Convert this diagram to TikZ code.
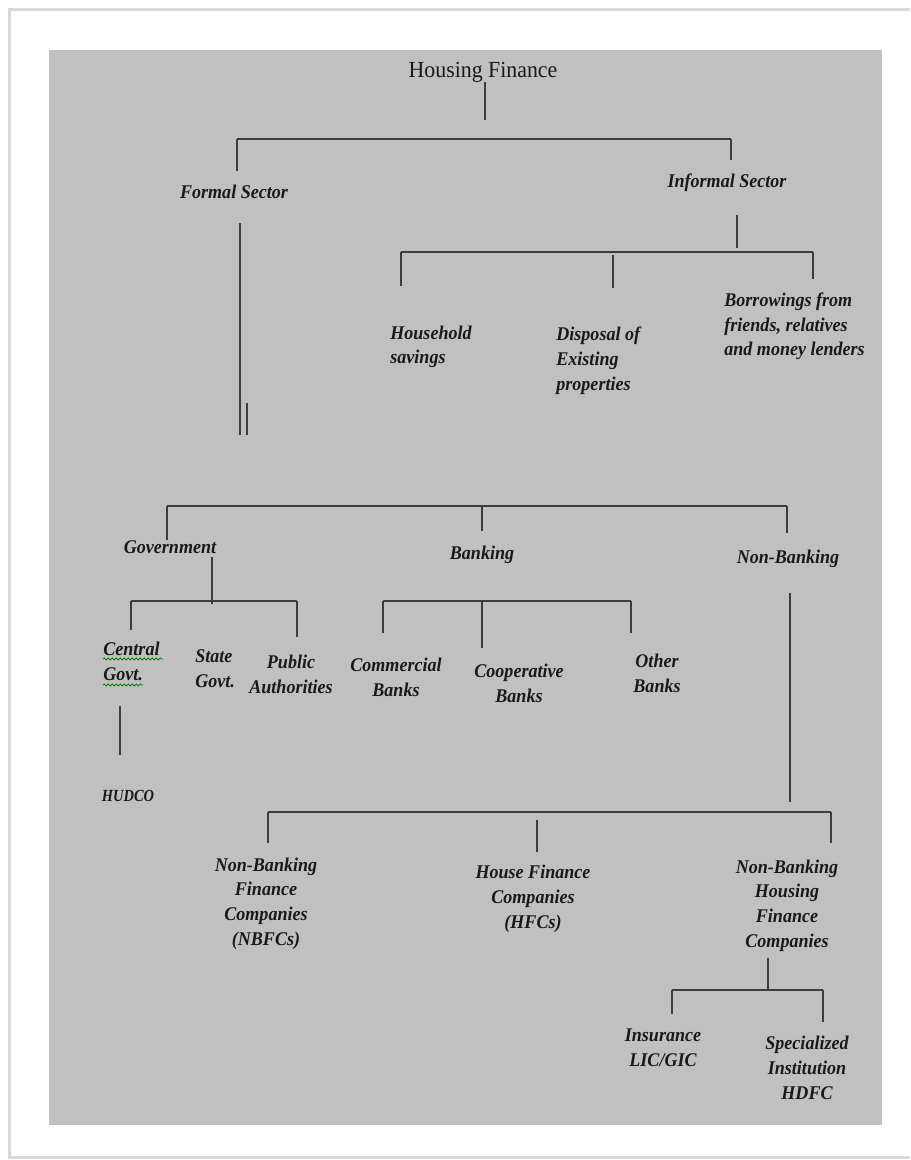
\documentclass[tikz,border=0pt]{standalone}
\usepackage{fontspec}
\setmainfont{Liberation Serif}
\newfontfamily\titlefont[FakeStretch=0.95]{Liberation Serif}
\newfontfamily\boxfont[FakeStretch=0.93]{Liberation Serif}
\newfontfamily\smallfont[FakeStretch=0.85]{Liberation Serif}
\usetikzlibrary{decorations.pathmorphing}
\definecolor{panelgrey}{RGB}{192,192,192}
\definecolor{linegrey}{RGB}{60,60,60}
\definecolor{inkgrey}{RGB}{25,25,25}
\tikzset{
    bar/.style={line width=0.8pt},
    spellmark/.style={draw=green!55!black, line width=0.4pt, decorate, decoration={snake, amplitude=0.5pt, segment length=2pt}}
}
\begin{document}
\begin{tikzpicture}[x=0.5pt,y=-0.5pt]
\useasboundingbox (0,0) rectangle (910,1160);
\fill[white] (0,0) rectangle (910,1160);
\draw[black!15, line width=1.5pt] (910,10) -- (9,10) -- (9,1157) -- (910,1157);
\fill[panelgrey] (49,50) rectangle (882,1125);
% labels sit on the baseline of their last line
\begin{scope}[every node/.style={inner sep=0pt, text=inkgrey, font=\boxfont\bfseries\itshape\fontsize{9.7}{12.3}\selectfont}]
    \node[anchor=base, font=\titlefont\fontsize{11.5}{14}\selectfont] (hf) at (483,78) {Housing Finance};
    \node[anchor=base] (fs) at (234,199) {Formal Sector};
    \node[anchor=base] (is) at (727,188) {Informal Sector};
    \node[anchor=base west, align=left] (hs) at (390,364) {Household\\savings};
    \node[anchor=base west, align=left] (dp) at (556,390) {Disposal of\\Existing\\properties};
    \node[anchor=base west, align=left] (bw) at (724,356) {Borrowings from\\friends, relatives\\and money lenders};
    \node[anchor=base] (gv) at (170,553) {Government};
    \node[anchor=base] (bk) at (482,559) {Banking};
    \node[anchor=base] (nb) at (788,563) {Non-Banking};
    \node[anchor=base west, align=left] (cg) at (103,680) {Central\\Govt.};
    \node[anchor=base west, align=left] (sg) at (195,687) {State\\Govt.};
    \node[anchor=base, align=center] (pa) at (291,693) {Public\\Authorities};
    \node[anchor=base, align=center] (cb) at (396,696) {Commercial\\Banks};
    \node[anchor=base, align=center] (cp) at (519,702) {Cooperative\\Banks};
    \node[anchor=base, align=center] (ob) at (657,692) {Other\\Banks};
    \node[anchor=base, font=\smallfont\bfseries\itshape\fontsize{8.5}{10}\selectfont] (hu) at (128,801) {HUDCO};
    \node[anchor=base, align=center] (nbfc) at (266,945) {Non-Banking\\Finance\\Companies\\(NBFCs)};
    \node[anchor=base, align=center] (hfc) at (533,928) {House Finance\\Companies\\(HFCs)};
    \node[anchor=base, align=center] (nbhfc) at (787,947) {Non-Banking\\Housing\\Finance\\Companies};
    \node[anchor=base, align=center] (ins) at (663,1066) {Insurance\\LIC/GIC};
    \node[anchor=base, align=center] (shd) at (807,1099) {Specialized\\Institution\\HDFC};
\end{scope}
% spell check marks
\draw[spellmark] (103,659) -- (163,659);
\draw[spellmark] (103,685) -- (143,685);
\begin{scope}
    \coordinate (r1) at (485,82);
    \coordinate (r2) at (485,120);
    \coordinate (a1) at (237,139);
    \coordinate (a2) at (731,139);
    \coordinate (a3) at (237,171);
    \coordinate (a4) at (731,160);
    \coordinate (f1) at (240,223);
    \coordinate (f2) at (240,435);
    \coordinate (f3) at (247,403);
    \coordinate (f4) at (247,435);
    \coordinate (i1) at (737,215);
    \coordinate (i2) at (737,248);
    \coordinate (b1) at (401,252);
    \coordinate (b2) at (813,252);
    \coordinate (b3) at (401,286);
    \coordinate (b4) at (613,255);
    \coordinate (b5) at (613,288);
    \coordinate (b6) at (813,279);
    \coordinate (m1) at (167,506);
    \coordinate (m2) at (787,506);
    \coordinate (m3) at (167,540);
    \coordinate (m4) at (482,506);
    \coordinate (m5) at (482,531);
    \coordinate (m6) at (787,533);
    \coordinate (g0) at (212,557);
    \coordinate (g1) at (131,601);
    \coordinate (g2) at (297,601);
    \coordinate (g3) at (131,630);
    \coordinate (g4) at (297,637);
    \coordinate (g5) at (212,604);
    \coordinate (k1) at (383,601);
    \coordinate (k2) at (631,601);
    \coordinate (k3) at (383,633);
    \coordinate (k4) at (482,601);
    \coordinate (k5) at (482,648);
    \coordinate (k6) at (631,633);
    \coordinate (c1) at (120,706);
    \coordinate (c2) at (120,755);
    \coordinate (n1) at (790,593);
    \coordinate (n2) at (790,802);
    \coordinate (e1) at (268,812);
    \coordinate (e2) at (831,812);
    \coordinate (e3) at (268,843);
    \coordinate (e4) at (537,820);
    \coordinate (e5) at (537,852);
    \coordinate (e6) at (831,843);
    \coordinate (h1) at (768,958);
    \coordinate (h2) at (768,990);
    \coordinate (l1) at (672,990);
    \coordinate (l2) at (823,990);
    \coordinate (l3) at (672,1014);
    \coordinate (l4) at (823,1022);
\end{scope}
\begin{scope}[every edge/.style={draw=linegrey, line width=0.6pt}]
    \path (r1) edge (r2);
    \path (a1) edge[bar] (a2);
    \path (a1) edge (a3);
    \path (a2) edge (a4);
    \path (f1) edge (f2);
    \path (f3) edge[line width=0.8pt] (f4);
    \path (i1) edge (i2);
    \path (b1) edge[bar] (b2);
    \path (b1) edge (b3);
    \path (b4) edge (b5);
    \path (b2) edge (b6);
    \path (m1) edge[bar] (m2);
    \path (m1) edge (m3);
    \path (m4) edge (m5);
    \path (m2) edge (m6);
    \path (g0) edge (g5);
    \path (g1) edge[bar] (g2);
    \path (g1) edge (g3);
    \path (g2) edge (g4);
    \path (k1) edge[bar] (k2);
    \path (k1) edge (k3);
    \path (k4) edge (k5);
    \path (k2) edge (k6);
    \path (c1) edge (c2);
    \path (n1) edge (n2);
    \path (e1) edge[bar] (e2);
    \path (e1) edge (e3);
    \path (e4) edge (e5);
    \path (e2) edge (e6);
    \path (h1) edge (h2);
    \path (l1) edge[bar] (l2);
    \path (l1) edge (l3);
    \path (l2) edge (l4);
\end{scope}
\end{tikzpicture}
\end{document}
